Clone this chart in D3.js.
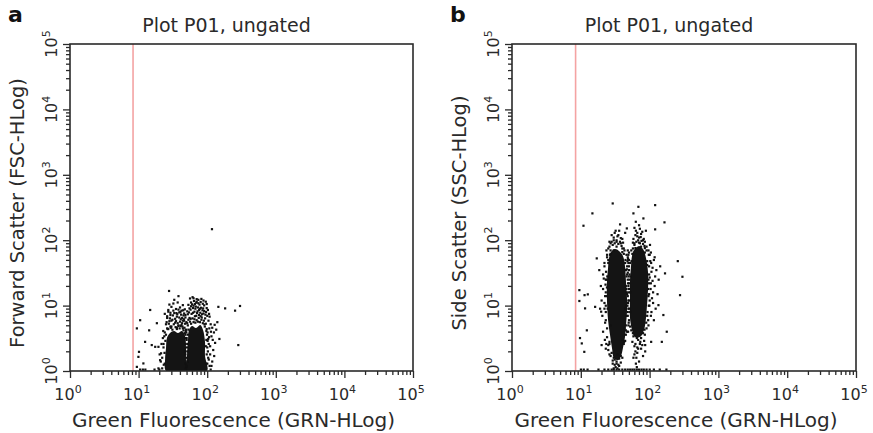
<!DOCTYPE html>
<html>
<head>
<meta charset="utf-8">
<script src="https://cdn.jsdelivr.net/npm/d3@7"></script>
<style>
  body { margin: 0; background: #fff; }
  svg { display: block; font-family: "DejaVu Sans", Verdana, sans-serif; }
</style>
</head>
<body>
<div class="plot"></div>
<script>
// ---- data (linear units on log axes) ----
const exponents = [0, 1, 2, 3, 4, 5];
const xTitle = "Green Fluorescence (GRN-HLog)";
const plotTitle = "Plot P01, ungated";

// gate marker (red vertical line), GRN value
const gateA = 8.3;
const gateB = 8.4;

// outline of the solid-black dense cores, [GRN, FSC]
const leftLobeA = [[25.1,1],[24.3,1.47],[25.1,2.25],[25.9,3.2],[28.7,3.81],[32.8,4.09],[37.5,3.81],[42.9,4.09],[47.5,3.43],[49.1,2.25],[49.1,1.47],[50.8,1]];
const rightLobeA = [[50.8,1],[50.8,1.76],[52.5,2.98],[54.3,4.24],[60,4.88],[68.7,4.54],[79,5.05],[86.9,4.24],[92.9,2.77],[92.9,1.7],[99.3,1]];

// scattered events, [GRN, FSC]
const eventsA = [
  [117,148],[27.7,16.8],[38,14],[63,13],[70,11.5],[98,10.6],[145,9.6],[182,9.1],[254,8.4],[300,9.9],[283,2.5],
  [14.7,8.6],[10.5,6.0],[9.4,4.5],[14.2,4.2],[18.4,5.4],[10.1,1.97],[9.9,1.65],[11.7,1.31],[9.4,1.16],
  [12.4,2.8],[15.5,2.5],[17.4,2.35],[19.4,2.35],[21.2,1.87],[20.5,1.47],[19.4,1.1],
  [10.5,1.0],[11.5,1.0],[12.5,1.0],[17,1.02],
  [25,5.2],[26,6.5],[27,8.1],[28,5.8],[29,7.2],[30,9.6],[31,6.1],[32,10.8],[33,7.7],[34,5.5],[35,8.9],[36,6.8],
  [37,11.2],[38,5.0],[39,7.9],[40,9.4],[41,6.2],[42,8.4],[43,5.4],[44,10.2],[45,7.1],[46,5.9],[47,8.8],[48,6.6],
  [30,4.8],[36,4.6],[26,4.5],[41,4.9],[33,12.3],[28,10.4],[24,3.9],[22.5,3.2],[23,2.3],[22,1.6],[24,7.5],
  [52,7.4],[55,9.1],[57,6.3],[60,10.5],[62,7.8],[64,11.8],[66,6.9],[68,9.7],[70,12.6],[72,8.2],[74,10.9],[76,7.2],
  [78,9.0],[80,11.4],[83,6.6],[85,8.5],[88,7.6],[90,10.1],[93,6.4],[96,8.0],[100,7.0],[104,5.9],[108,6.8],[112,5.2],
  [118,4.6],[125,3.9],[115,3.4],[130,2.7],[122,2.1],[110,1.8],[105,2.6],[118,1.4],[100,1.3],[135,4.3],[140,5.6],[150,3.1],
  [56,12.9],[61,13.5],[74,12.3],[66,10.6],[88,12.0],[95,11.5],[48,3.6],[49,4.3],[50,3.2],
  [23,2.6],[24,1.3],[22,1.1],[25,3.6],[27,4.4],[29,4.8],[38,4.9],[44,4.5],[47,3.8],[52,5.0],[55,6.5],[69,7.0],
  [80,6.9],[91,5.2],[98,4.4],[101,2.9],[103,1.6],[108,1.2],[20,1.05],[112,1.05],
  [26.5,4.4],[29.5,4.6],[31,4.3],[34.5,4.7],[36,4.4],[39.5,4.5],[43.5,4.8],[45,4.2],[46.5,4.6],[48.5,4.1],
  [25.5,5.6],[27.5,5.3],[30,5.9],[32.5,5.2],[35,5.8],[37,5.4],[40,5.7],[42,5.1],[44,5.9],[47.5,5.3],[49.5,5.6],
  [26,6.9],[28.5,6.4],[31.5,7.1],[34,6.3],[36.5,7.4],[39,6.6],[41.5,7.3],[43,6.5],[45.5,6.2],[48,7.2],
  [27,8.6],[29,7.8],[32,8.4],[35.5,7.7],[38,8.7],[40.5,8.0],[44.5,8.5],[46,7.6],
  [51,5.4],[53,6.1],[56,5.7],[58,5.3],[61,6.4],[63,5.6],[65,6.2],[67,5.5],[70,6.0],[73,5.7],[75,6.5],[78,5.6],
  [82,6.1],[86,5.4],[89,5.9],[92,4.8],[95,5.3],[97,4.1],[99,3.6],[101,3.9],[103,3.1],[100,2.3],[102,2.0],[98,1.8],
  [105,1.5],[96,1.3],
  [51,8.2],[54,7.9],[57,8.7],[59,7.5],[62,9.2],[65,8.1],[67,9.0],[71,7.7],[73,9.4],[76,8.6],[79,7.8],[81,9.3],
  [84,7.4],[87,9.1],[90,8.3],[94,7.3],[98,9.2],[102,8.6],[106,7.5],
  [53,10.3],[58,11.2],[63,10.0],[69,11.1],[77,10.4],[82,12.7],[86,10.7],[58,9.8],
  [23.8,1.9],[23.2,1.25],[24.5,2.9],[23.6,3.4],[22.8,4.1],[21.5,2.6],[21,1.4],[20.2,1.8],
  [95,2.4],[97,3.0],[106,3.3],[110,2.4],[113,4.0],[107,4.5],[120,3.0],[126,1.7],[115,1.2],[128,5.1],
  [48,1.3],[49.5,1.6],[51,2.0],[48.5,2.6],[50,3.0],[52,3.6],[49,1.1],[51.5,1.4],[50.5,2.3],[48,3.2],[53,4.3],[49.5,3.9],
  [47,2.0],[50,1.2],[52,2.6],[48,1.8]
];

// panel b cores, [GRN, SSC]
const leftLobeB = [[27.5,66],[31.4,73.3],[35.9,68.5],[41,57.3],[43.9,40.3],[45.4,22.9],[46.9,13.1],[46.9,8.0],[45.4,5.05],[43.9,3.31],[41,2.25],[38.4,1.7],[34.7,1.47],[30.4,1.58],[28.4,2.25],[26.6,3.55],[24.9,6.02],[24,12.2],[24,22.9],[24.9,37.6],[25.7,53.4]];
const rightLobeB = [[59.3,70.8],[70.2,81.5],[80.2,73.3],[88.6,53.4],[94.8,32.6],[94.8,17.3],[91.7,10.2],[88.6,6.46],[82.9,4.24],[72.5,3.31],[61,3.31],[55.5,4.24],[51.9,6.46],[51.9,12.2],[51.9,22.9],[53.7,40.3],[55.5,57.3]];

const eventsB = [
  [29,366],[120,345],[14.7,258],[58,258],[68.5,325],[10.9,167],[37.1,175],[81,216],[164,188],[120,147],[46.5,152],[62.8,192],
  [17,52.9],[256,48],[299,27.7],[276,14.5],[9.5,17.3],[11.3,14.5],[12.6,14.9],[9.5,11.8],[11.5,9.1],[16.1,9.6],[19.7,8.1],
  [12.2,4.2],[9.7,3.2],[10.3,2.65],[11.2,1.97],[20,2.5],[177,4.0],[158,7.2],[134,10.2],[167,31.2],[105,2.8],[86,2.5],[150,2.8],[25,2.5],
  [10,1],[11,1],[12.5,1],[18,1],[22,1],[25,1],[28,1],[30,1],[33,1],[36,1],[40,1],[44,1],[48,1],[52,1],[56,1],[60,1],[65,1],
  [70,1],[76,1],[82,1],[90,1],[100,1],[115,1],[140,1],[175,1],
  [30,1.6],[33,1.4],[29,1.3],[35,1.25],[32,1.15],[31,1.5],[34,1.8],[36,1.55],[28,1.9],[38,1.7],[30,1.1],
  [62,2.0],[64,1.6],[60,1.8],[66,2.3],[63,1.3],[65,1.15],
  [22,40],[23,25],[21,18],[22,9],[23,6],[24,4.5],[21,30],[20,12],[24,60],[26,80],[28,95],[30,110],[33,100],[35,120],
  [38,90],[40,105],[42,75],[44,130],[36,140],[31,130],[27,70],[25,50],[22.5,14],[47,30],[48,55],[46,18],[44,9],[45,5],
  [24,3.3],[26,2.8],[23,2.2],[42,2.6],[40,3.0],
  [58,105],[62,120],[66,130],[70,110],[75,125],[80,100],[85,95],[90,80],[96,70],[100,60],[105,45],[110,38],[98,30],
  [104,22],[112,16],[100,12],[106,8],[95,6],[90,4.5],[85,3.6],[75,3.2],[68,3.0],[58,3.4],[54,4.2],[50,6],[50,12],
  [51,25],[52,45],[54,70],[60,90],[115,50],[120,28],[95,18],[88,140],[72,150],[60,155],
  [49,20],[48,8],[50,35],[49,60],
  [23,10],[23.5,25],[24,55],[27,90],[33,95],[40,75],[44,45],[45,20],[45,9],[43,4.5],[26,2.6],[27,5],[47,40],[50,50],
  [57,75],[70,92],[85,76],[92,48],[98,22],[97,10],[92,7],[84,4.3],[72,2.6],[52,4.8],[49,9],[50,22],[60,2.4],[75,2.2],[83,2.9],
  [22.5,5.5],[23,8],[22,11],[23,16],[22.8,21],[23.2,33],[22,45],[23.5,70],[21.5,26],[20.5,7],[21,4],[22.3,3],[23.4,2.6],
  [25,2.1],[26,1.8],[19.5,20],[18.5,35],[19,9],
  [26,95],[29,85],[31,90],[33,80],[35,88],[37,95],[39,82],[30,100],[34,115],[28,120],[38,108],[41,92],[43,70],[25,75],[32,140],
  [47,15],[48,25],[46.5,36],[47.5,48],[48.5,11],[46,7],[49,5],[47,4],[50,16],[48,70],[46,60],[45,3.6],[44,2.9],
  [60,85],[64,95],[68,100],[72,90],[76,98],[80,88],[84,82],[66,115],[74,112],[82,105],[63,140],[70,170],[78,135],[57,92],[90,70],
  [97,60],[102,48],[98,40],[106,33],[100,27],[110,24],[103,18],[98,15],[108,13],[99,10],[112,11],[104,7],[96,5],[118,20],
  [125,35],[130,15],[122,9],[115,6],[135,25],[142,40],[104,65],[118,55],[101,85],
  [56,2.8],[62,2.6],[68,2.2],[73,2.8],[78,2.5],[86,2.0],[58,1.6],[70,1.4],[80,1.7],[66,1.9],
  [33,1.3],[36,1.2],[31,1.25],[34,1.1],[38,1.35],[29,1.45],[40,1.6],[27,1.7],
  [48.5,4],[49.5,5.5],[48,7],[50.5,9],[49,12],[48,14],[50,18],[48.5,22],[49.5,28],[48,32],[50,40],[49,45],
  [48.5,52],[50,65],[47.5,10],[51,30],
  [24.5,9],[23.8,14],[24.2,28],[25,45],[26.5,60],[23.9,19],[45.5,10],[46,28],[45,35],[44.5,50],[42,62],[40,66],
  [30,70],[27,62],[46.5,16],[45,4.2],[42.5,2.8],
  [52,8],[52.5,16],[53,28],[54.5,48],[56,62],[62,76],[75,80],[85,65],[92,42],[96,25],[96,14],[93,8],[89,5.5],
  [80,3.8],[65,3.2],[57,3.8]
];

// ---- layout ----
const width = 873, height = 433;
const plotTop = 44, plotBottom = 371;

const svg = d3.select(".plot")
  .append("svg")
    .attr("width", width)
    .attr("height", height);

const panels = [
  {letter: "a", left: 70, right: 413, yTitle: "Forward Scatter (FSC-HLog)", lobes: [leftLobeA, rightLobeA], events: eventsA, gate: gateA},
  {letter: "b", left: 512, right: 856, yTitle: "Side Scatter (SSC-HLog)", lobes: [leftLobeB, rightLobeB], events: eventsB, gate: gateB}
];

const ink = "#2a2a2a";

panels.forEach(p => {
  const x = d3.scaleLog().domain([1, 1e5]).range([p.left, p.right]);
  const y = d3.scaleLog().domain([1, 1e5]).range([plotBottom, plotTop]);
  const majors = exponents.map(e => Math.pow(10, e));
  const minors = x.ticks().filter(v => !majors.includes(v));

  const g = svg.append("g");

  // clip for marks
  const clipId = "clip-" + p.letter;
  svg.append("clipPath").attr("id", clipId)
    .append("rect")
      .attr("x", p.left).attr("y", plotTop)
      .attr("width", p.right - p.left).attr("height", plotBottom - plotTop);

  const marks = g.append("g").attr("clip-path", `url(#${clipId})`);

  // gate line
  marks.append("line")
    .attr("x1", x(p.gate)).attr("x2", x(p.gate))
    .attr("y1", plotTop).attr("y2", plotBottom)
    .attr("stroke", "#f4a3a3")
    .attr("stroke-width", 1.6);

  // dense cores
  const line = d3.line()
    .x(d => x(d[0]))
    .y(d => y(d[1]))
    .curve(d3.curveCatmullRomClosed.alpha(0.5));
  marks.selectAll("path.core")
    .data(p.lobes)
    .enter()
    .append("path")
      .attr("class", "core")
      .attr("d", line)
      .attr("fill", "#141414");

  // individual events
  marks.selectAll("rect.ev")
    .data(p.events)
    .enter()
    .append("rect")
      .attr("class", "ev")
      .attr("x", d => x(d[0]) - 1)
      .attr("y", d => Math.min(y(d[1]), plotBottom - 1.5) - 1)
      .attr("width", 2.2)
      .attr("height", 2.2)
      .attr("fill", "#111");

  // frame
  g.append("rect")
    .attr("x", p.left).attr("y", plotTop)
    .attr("width", p.right - p.left).attr("height", plotBottom - plotTop)
    .attr("fill", "none")
    .attr("stroke", ink)
    .attr("stroke-width", 1.6);

  // ticks
  const xMinor = g.append("g")
    .attr("transform", `translate(0,${plotBottom})`)
    .call(d3.axisBottom(x).tickValues(minors).tickSize(4).tickFormat(""));
  const xMajor = g.append("g")
    .attr("transform", `translate(0,${plotBottom})`)
    .call(d3.axisBottom(x).tickValues(majors).tickSize(7).tickFormat(""));
  const yMinor = g.append("g")
    .attr("transform", `translate(${p.left},0)`)
    .call(d3.axisLeft(y).tickValues(minors).tickSize(4).tickFormat(""));
  const yMajor = g.append("g")
    .attr("transform", `translate(${p.left},0)`)
    .call(d3.axisLeft(y).tickValues(majors).tickSize(7).tickFormat(""));
  [xMinor, xMajor, yMinor, yMajor].forEach(a => {
    a.select(".domain").remove();
    a.selectAll("line").attr("stroke", ink).attr("stroke-width", 1.3);
  });

  // x tick labels: 10^n
  exponents.forEach(e => {
    const t = g.append("text")
      .attr("x", x(Math.pow(10, e)) - 2)
      .attr("y", plotBottom + 29)
      .attr("text-anchor", "middle")
      .attr("fill", ink)
      .style("font-size", "16px");
    t.append("tspan").text("10");
    t.append("tspan").attr("dy", -7).style("font-size", "11px").text(e);
  });

  // y tick labels, rotated
  exponents.forEach(e => {
    const t = g.append("text")
      .attr("transform", `translate(${p.left - 13},${y(Math.pow(10, e))}) rotate(-90)`)
      .attr("text-anchor", "middle")
      .attr("fill", ink)
      .style("font-size", "16px");
    t.append("tspan").text("10");
    t.append("tspan").attr("dy", -7).style("font-size", "11px").text(e);
  });

  const mid = (p.left + p.right) / 2;

  // titles
  g.append("text")
    .attr("x", mid - 15)
    .attr("y", 32)
    .attr("text-anchor", "middle")
    .attr("fill", ink)
    .style("font-size", "19px")
    .text(plotTitle);

  g.append("text")
    .attr("x", mid - 8)
    .attr("y", 427)
    .attr("text-anchor", "middle")
    .attr("fill", ink)
    .style("font-size", "20px")
    .text(xTitle);

  g.append("text")
    .attr("transform", `translate(${p.left - 46},213) rotate(-90)`)
    .attr("text-anchor", "middle")
    .attr("fill", ink)
    .style("font-size", "19.5px")
    .text(p.yTitle);

  // panel letter
  g.append("text")
    .attr("x", p.left - 62)
    .attr("y", 22)
    .attr("fill", "#111")
    .style("font-size", "22px")
    .style("font-weight", "bold")
    .text(p.letter);
});
</script>
</body>
</html>
